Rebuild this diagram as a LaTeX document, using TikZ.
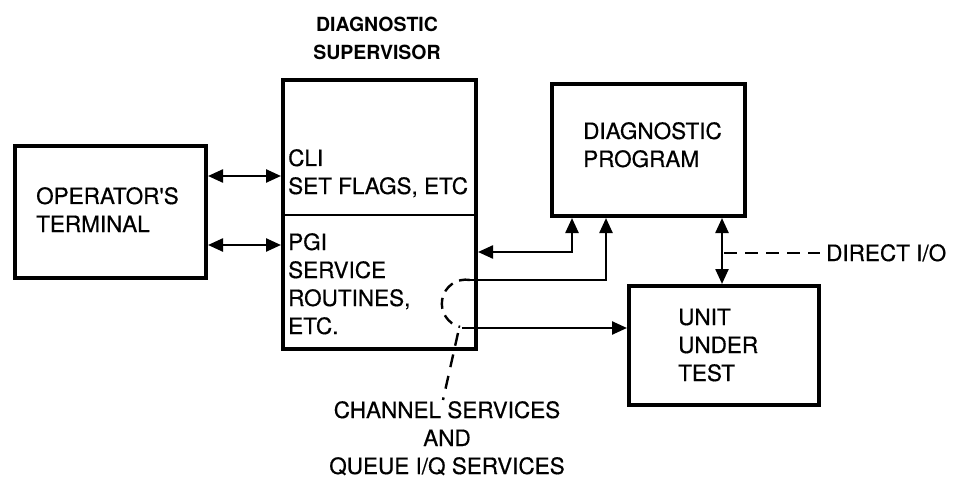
\documentclass[tikz,border=0pt]{standalone}
\usepackage{fontspec}
\setmainfont{TeX Gyre Heros}
\newfontfamily\medfont{TeX Gyre Heros}[FakeBold=0.5]
\usetikzlibrary{arrows.meta}
\begin{document}
\begin{tikzpicture}[x=1pt,y=-1pt,
  box/.style={draw,line width=4pt,inner sep=0pt,anchor=north west},
  conn/.style={line width=2.4pt,-{Triangle[length=15pt,width=13pt]}},
  dbl/.style={line width=2.4pt,{Triangle[length=15pt,width=13pt]}-{Triangle[length=15pt,width=13pt]}},
  dsh/.style={line width=2.4pt,dash pattern=on 13pt off 8pt},
  lbl/.style={font=\medfont\fontsize{22.5}{28}\selectfont,inner sep=0pt,anchor=base west},
  ctr/.style={font=\medfont\fontsize{22.5}{28}\selectfont,inner sep=0pt,anchor=base},
  ttl/.style={font=\bfseries\fontsize{19.5}{28}\selectfont,inner sep=0pt,anchor=base},
  ]
\useasboundingbox (0,0) rectangle (955,481);
\fill[white] (0,0) rectangle (955,481);

% boxes
\node[box,minimum width=191pt,minimum height=132pt] (op) at (13,144) {};
\node[box,minimum width=193pt,minimum height=269pt] (sup) at (281,78) {};
\node[box,minimum width=193pt,minimum height=132pt] (dp) at (550,82) {};
\node[box,minimum width=190pt,minimum height=119pt] (uut) at (627,284) {};
\draw[line width=2.4pt] (sup.west |- 0,215) -- (sup.east |- 0,215);

% texts
\node[ttl] (title1) at (377,32) {DIAGNOSTIC};
\node[ttl] (title2) at (377,60) {SUPERVISOR};
\node[lbl] (op1) at (36,204) {OPERATOR'S};
\node[lbl] (op2) at (36,232) {TERMINAL};
\node[lbl] (cli1) at (288,166) {CLI};
\node[lbl] (cli2) at (288,194) {SET FLAGS, ETC};
\node[lbl] (pgi1) at (288,250) {PGI};
\node[lbl] (pgi2) at (288,278) {SERVICE};
\node[lbl] (pgi3) at (288,306) {ROUTINES,};
\node[lbl] (pgi4) at (288,334) {ETC.};
\node[lbl] (dp1) at (583,139) {DIAGNOSTIC};
\node[lbl] (dp2) at (583,167) {PROGRAM};
\node[lbl] (uut1) at (678,325) {UNIT};
\node[lbl] (uut2) at (678,353) {UNDER};
\node[lbl] (uut3) at (678,381) {TEST};
\node[lbl] (dio) at (826,261) {DIRECT I/O};
\node[ctr] (chs1) at (447,418) {CHANNEL SERVICES};
\node[ctr] (chs2) at (447,446) {AND};
\node[ctr] (chs3) at (447,474) {QUEUE I/Q SERVICES};

% connectors
\draw[dbl] (op.east |- 0,176) -- (sup.west |- 0,176);
\draw[dbl] (op.east |- 0,245) -- (sup.west |- 0,245);
\draw[dbl] (dp.south -| 572,0) |- (sup.east |- 0,252);
\coordinate (c1) at (462,280);
\coordinate (c2) at (462,328);
\draw[conn] (c1) -| (dp.south -| 606,0);
\draw[conn] (c2) -- (uut.west |- c2);
\draw[dbl] (dp.south -| 722,0) -- (uut.north -| 722,0);

% dashed annotations
\coordinate (d1) at (724,253);
\draw[dsh] (d1) -- ([xshift=-6pt]dio.west |- d1);
\draw[dsh,dash pattern=on 11pt off 7pt] (470,280) arc[start angle=280,end angle=104,radius=24];
\coordinate (l1) at (458,333);
\coordinate (l2) at (443,400);
\draw[dsh,dash pattern=on 13pt off 9pt] (l1) -- (l2);
\end{tikzpicture}
\end{document}
